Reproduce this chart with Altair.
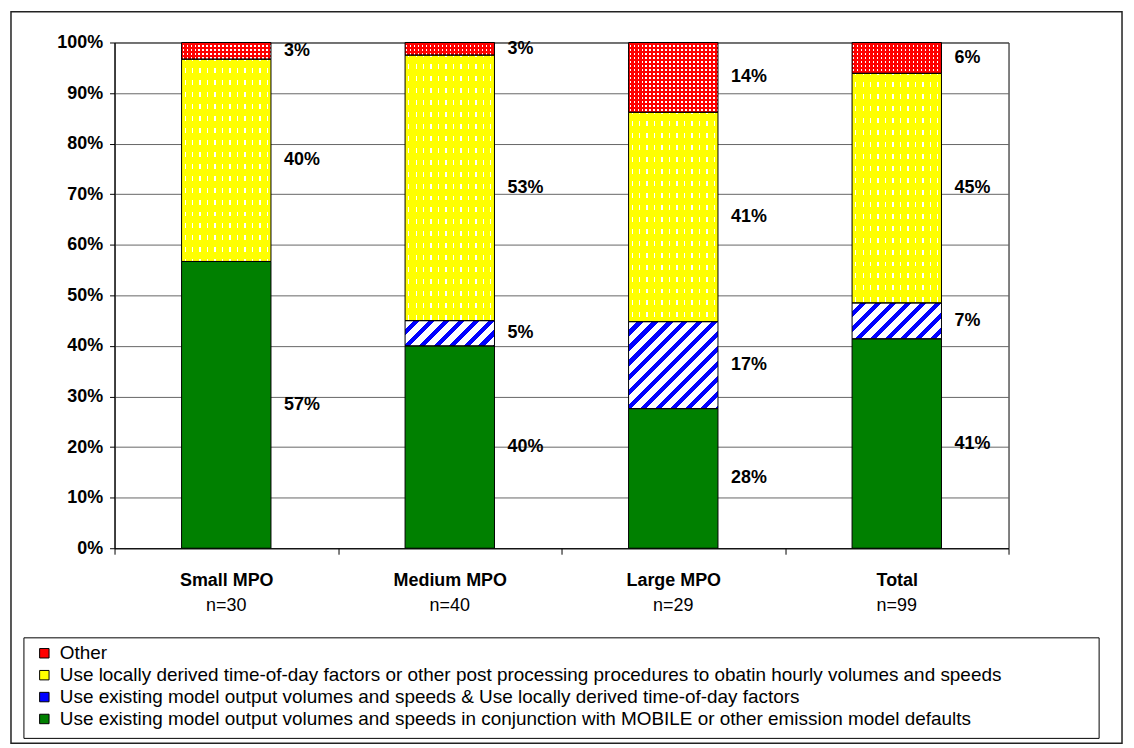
import altair as alt
import pandas as pd

# ---------------- data ----------------
categories = ["Small MPO", "Medium MPO", "Large MPO", "Total"]
n_labels = ["n=30", "n=40", "n=29", "n=99"]

series_names = [
    "Use existing model output volumes and speeds in conjunction with MOBILE or other emission model defaults",
    "Use existing model output volumes and speeds & Use locally derived time-of-day factors",
    "Use locally derived time-of-day factors or other post processing procedures to obatin hourly volumes and speeds",
    "Other",
]
# percent shares per category (bottom -> top of each stack)
existing_defaults = [56.7, 40.0, 27.6, 41.4]
existing_local_tod = [0.0, 5.0, 17.2, 7.1]
local_tod_postproc = [40.0, 52.5, 41.4, 45.4]
other = [3.3, 2.5, 13.8, 6.1]

series_values = [existing_defaults, existing_local_tod, local_tod_postproc, other]

legend_order = [series_names[3], series_names[2], series_names[1], series_names[0]]
legend_colors = ["#FF0000", "#FFFF00", "#0000FF", "#008000"]

rows = []
for si, (name, vals) in enumerate(zip(series_names, series_values)):
    for ci, cat in enumerate(categories):
        rows.append({"category": cat, "series": name, "order": si, "value": vals[ci]})
df = pd.DataFrame(rows)

# ---------------- layout constants ----------------
W, H = 898, 508
BAND = 0.4
BAR_W = W / len(categories) * BAND
FONT = "Liberation Sans"

xenc = alt.X("category:N", sort=categories, title=None,
             scale=alt.Scale(paddingInner=0, paddingOuter=0))
yscale = alt.Scale(domain=[0, 100], nice=False)


def stacked():
    return (alt.Chart(df)
            .transform_stack(stack="value", groupby=["category"], as_=["y0", "y1"],
                             sort=[alt.SortField("order", order="ascending")])
            .transform_calculate(mid="(datum.y0 + datum.y1) / 2"))


def stripe_stops(period, on, phase, on_col, off_col):
    pts = []
    t = phase - period
    while t < 1:
        pts += [(t, on_col), (t + on, on_col), (t + on, off_col), (t + period, off_col)]
        t += period
    out = []
    for off, col in pts:
        out.append({"offset": round(min(max(off, 0.0), 1.0), 5), "color": col})
    return out


def grad(stops, x2, y2):
    return {"gradient": "linear", "x1": 0, "y1": 0, "x2": x2, "y2": y2, "stops": stops}


def seg_layer(filter_expr, fill):
    return (stacked().transform_filter(filter_expr)
            .mark_bar(width=alt.RelativeBandSize(BAND), fill=fill, strokeWidth=0)
            .encode(x=xenc, y=alt.Y("y0:Q", scale=yscale, title=None), y2="y1:Q"))


WHITE = "#FFFFFF"
CLEAR = "rgba(255,255,255,0)"

# base solid bars (with legend)
base = stacked().mark_bar(width=alt.RelativeBandSize(BAND), strokeWidth=0).encode(
    x=xenc,
    y=alt.Y("y0:Q", scale=yscale, title=None,
            axis=alt.Axis(values=list(range(0, 101, 10)), labelExpr="datum.value + '%'")),
    y2="y1:Q",
    color=alt.Color("series:N", scale=alt.Scale(domain=legend_order, range=legend_colors),
                    legend=alt.Legend(title=None, orient="none", legendX=-80, legendY=604,
                                      direction="vertical")),
)

pattern_layers = []
# yellow: white dashes (vertical lines broken by yellow bands)
pattern_layers.append(seg_layer("datum.order == 2",
                                grad(stripe_stops(7.5 / BAR_W, 1.3 / BAR_W, 3 / BAR_W, WHITE, CLEAR), 1, 0)))
# red: white dots (vertical lines broken by red bands)
pattern_layers.append(seg_layer("datum.order == 3",
                                grad(stripe_stops(4 / BAR_W, 1.4 / BAR_W, 1 / BAR_W, WHITE, CLEAR), 1, 0)))
for ci, cat in enumerate(categories):
    hy = local_tod_postproc[ci] / 100 * H
    if hy > 0:
        pattern_layers.append(seg_layer(
            f"datum.order == 2 && datum.category == '{cat}'",
            grad(stripe_stops(12 / hy, 7 / hy, 2 / hy, "#FFFF00", "rgba(255,255,0,0)"), 0, 1)))
    hr = other[ci] / 100 * H
    if hr > 0:
        pattern_layers.append(seg_layer(
            f"datum.order == 3 && datum.category == '{cat}'",
            grad(stripe_stops(4 / hr, 2.5 / hr, 0.5 / hr, "#FF0000", "rgba(255,0,0,0)"), 0, 1)))
    hb = existing_local_tod[ci] / 100 * H
    if hb > 0:
        k = (BAR_W + hb) * BAR_W / (BAR_W ** 2 + hb ** 2)
        per = 15 / (BAR_W + hb)
        pattern_layers.append(seg_layer(
            f"datum.order == 1 && datum.category == '{cat}'",
            grad(stripe_stops(per, 0.58 * per, 0, WHITE, CLEAR), k, k * hb / BAR_W)))

outline = stacked().transform_filter("datum.value > 0").mark_bar(
    width=alt.RelativeBandSize(BAND), fill="transparent", stroke="black", strokeWidth=1
).encode(x=xenc, y=alt.Y("y0:Q", scale=yscale, title=None), y2="y1:Q")

labels = stacked().transform_filter("datum.value > 0").transform_calculate(
    label="format(datum.value, '.0f') + '%'"
).mark_text(align="left", baseline="middle", dx=58, fontSize=18, fontWeight="bold", font=FONT,
            color="black").encode(
    x=xenc, y=alt.Y("mid:Q", scale=yscale, title=None), text="label:N")

n_df = pd.DataFrame({"category": categories, "n": n_labels})
n_text = alt.Chart(n_df).mark_text(baseline="middle", fontSize=18, font=FONT, color="black").encode(
    x=xenc, y=alt.value(H + 58), text="n:N")

one = alt.Data(values=[{"a": 1}])
outer_frame = alt.Chart(one).mark_rect(fill="transparent", stroke="#222", strokeWidth=1.5).encode(
    x=alt.value(-104), x2=alt.value(W + 114), y=alt.value(-31), y2=alt.value(H + 196))
legend_frame = alt.Chart(one).mark_rect(fill="transparent", stroke="black", strokeWidth=1).encode(
    x=alt.value(-91), x2=alt.value(989), y=alt.value(598), y2=alt.value(699))

chart = alt.layer(outer_frame, legend_frame, base, *pattern_layers, outline, labels, n_text).properties(
    width=W, height=H,
    autosize=alt.AutoSizeParams(type="none"),
    padding={"left": 107, "top": 33, "right": 118, "bottom": 197},
    background="white",
).configure_view(stroke="black", strokeWidth=1).configure_axisY(
    labelFont=FONT, labelFontSize=18, labelFontWeight="bold", labelColor="black",
    domainColor="black", tickColor="black", tickSize=5, labelPadding=7,
    gridColor="#666666", gridWidth=1,
).configure_axisX(
    labelFont=FONT, labelFontSize=18, labelFontWeight="bold", labelColor="black",
    domainColor="black", tickColor="black", tickSize=6, labelPadding=17, labelAngle=0,
    tickBand="extent", grid=False,
).configure_legend(
    labelFont=FONT, labelFontSize=19, labelColor="black", labelLimit=1100,
    symbolType="square", symbolSize=90, symbolStrokeColor="black", symbolStrokeWidth=1,
    rowPadding=2, padding=0, labelOffset=6,
)

chart.save("out.html", embed_options={"renderer": "svg", "actions": False})
